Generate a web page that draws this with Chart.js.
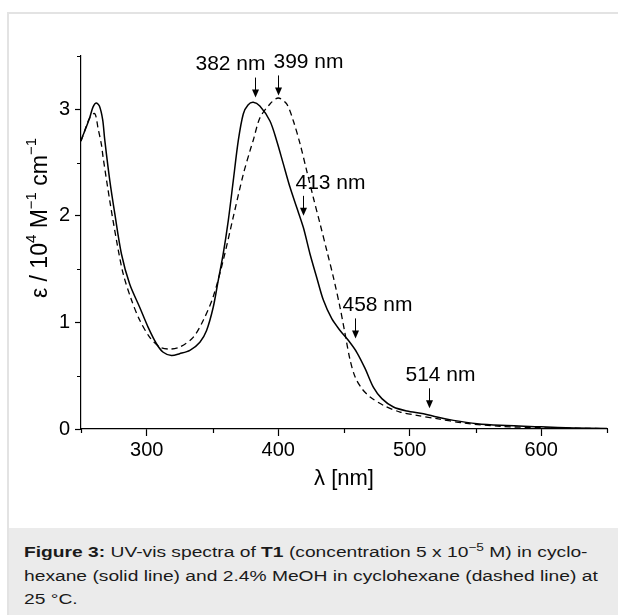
<!DOCTYPE html>
<html>
<head>
<meta charset="utf-8">
<script src="https://cdn.jsdelivr.net/npm/chart.js@4.4.1/dist/chart.umd.min.js"></script>
<style>
html, body { margin: 0; padding: 0; background: #fff; }
body { width: 618px; height: 615px; position: relative; overflow: hidden; font-family: "Liberation Sans", Arial, sans-serif; }
#frame { position: absolute; left: 7px; top: 12px; right: -4px; bottom: -4px; border-top: 2px solid #e3e3e3; border-left: 2px solid #e3e3e3; }
#chart { position: absolute; left: 0; top: 0; }
#caption { position: absolute; left: 9px; top: 528px; right: 0; bottom: 0; background: #ebebeb; }
#captext { position: absolute; left: 15px; top: 12px; width: 480px; white-space: nowrap; font-size: 15.5px; line-height: 23.5px; color: #1a1a1a; transform: scaleX(1.24); transform-origin: 0 0; }
#captext sup { font-size: 11px; line-height: 0; vertical-align: 6px; }
</style>
</head>
<body>
<div id="frame"></div>
<canvas id="chart" width="618" height="527"></canvas>
<div id="caption"><div id="captext"><b>Figure 3:</b> UV-vis spectra of <b>T1</b> (concentration 5 x 10<sup>−5</sup> M) in cyclo-<br>hexane (solid line) and 2.4% MeOH in cyclohexane (dashed line) at<br>25 °C.</div></div>
<script>
// cyclohexane (solid line)
var solidNm  = [250, 253, 256.6, 259.1, 261.5, 264, 266.5, 268, 271.9, 275.7, 280.8, 287, 294.7, 301, 307.4, 312.5, 318.8, 325, 332.8, 340.4, 345.5, 350.5, 354.3, 358.1, 362, 365.8, 369.6, 373.4, 377, 381, 386, 393.7, 398.8, 403.8, 408.9, 414, 419.1, 424.2, 429.3, 434.3, 440.7, 447, 453.4, 459.7, 466.1, 472.4, 478.8, 487.6, 497.8, 510.5, 520.7, 533.3, 551.2, 569, 600, 625, 650];
var solidEps = [2.71, 2.80, 2.92, 3.02, 3.06, 3.03, 2.90, 2.72, 2.33, 2.02, 1.64, 1.36, 1.14, 0.956, 0.80, 0.72, 0.69, 0.707, 0.738, 0.815, 0.925, 1.14, 1.39, 1.64, 1.956, 2.33, 2.705, 2.956, 3.04, 3.065, 3.03, 2.89, 2.705, 2.49, 2.27, 2.08, 1.89, 1.64, 1.42, 1.21, 1.035, 0.925, 0.83, 0.72, 0.566, 0.39, 0.285, 0.206, 0.169, 0.144, 0.112, 0.081, 0.05, 0.035, 0.02, 0.01, 0.005];

// 2.4% MeOH in cyclohexane (dashed line)
var dashNm  = [250, 254, 256.7, 260.5, 263, 265.5, 266.8, 271.9, 277, 282, 288.4, 294.7, 302.3, 309.9, 317.6, 325.2, 335.3, 343, 350.5, 358.1, 365.8, 373.4, 378.5, 381, 386.1, 393.7, 400, 406.4, 411.5, 416.6, 421.7, 426.7, 431.8, 436.9, 442, 447, 450.8, 454.7, 458.5, 463.6, 469.9, 480, 492.7, 505.4, 520.7, 541, 569, 600, 650];
var dashEps = [2.70, 2.84, 2.92, 2.96, 2.82, 2.67, 2.55, 2.14, 1.77, 1.46, 1.21, 1.02, 0.86, 0.77, 0.75, 0.77, 0.86, 1.02, 1.24, 1.58, 1.99, 2.39, 2.61, 2.71, 2.92, 3.05, 3.106, 3.05, 2.89, 2.675, 2.42, 2.17, 1.925, 1.675, 1.42, 1.14, 0.894, 0.644, 0.487, 0.379, 0.30, 0.222, 0.159, 0.128, 0.097, 0.056, 0.025, 0.012, 0.003];

// arrow annotations: label, wavelength of arrow, epsilon at arrow tip
var annoText = ['382 nm', '399 nm', '413 nm', '458 nm', '514 nm'];
var annoNm   = [382, 399.5, 418.5, 458.4, 514.3];
var annoEps  = [3.11, 3.13, 2.00, 0.85, 0.194];

// tick values
var xTicks = [300, 400, 500, 600];
var yTicks = [0, 1, 2, 3];
var xMinor = [250, 350, 450, 550, 650];
var yMinor = [0.5, 1.5, 2.5, 3.5];

var FONT = '"Liberation Sans", Arial, sans-serif';

function pts(xs, ys) {
    return xs.map(function (x, i) { return {x: x, y: ys[i]}; });
}

var extras = {
    id: 'extras',
    afterDraw: function (chart) {
        var ctx = chart.ctx;
        var xs = chart.scales.x, ys = chart.scales.y;
        ctx.save();
        ctx.strokeStyle = '#000';
        ctx.fillStyle = '#000';
        ctx.lineWidth = 1.2;

        // minor ticks
        ctx.beginPath();
        xMinor.forEach(function (v) {
            var px = Math.round(xs.getPixelForValue(v)) + 0.5;
            ctx.moveTo(px, ys.bottom);
            ctx.lineTo(px, ys.bottom + 4);
        });
        yMinor.forEach(function (v) {
            var py = Math.round(ys.getPixelForValue(v)) + 0.5;
            ctx.moveTo(xs.left, py);
            ctx.lineTo(xs.left - 4, py);
        });
        ctx.stroke();

        // arrows + labels
        var shift = [-25, 30, 27, 22, 11];
        ctx.font = '21px ' + FONT;
        ctx.textAlign = 'center';
        ctx.textBaseline = 'middle';
        ctx.lineWidth = 1;
        annoText.forEach(function (t, i) {
            var ax = Math.round(xs.getPixelForValue(annoNm[i])) + 0.5;
            var tip = ys.getPixelForValue(annoEps[i]);
            ctx.beginPath();
            ctx.moveTo(ax, tip - 20);
            ctx.lineTo(ax, tip - 6);
            ctx.stroke();
            ctx.beginPath();
            ctx.moveTo(ax - 3.5, tip - 8);
            ctx.lineTo(ax + 3.5, tip - 8);
            ctx.lineTo(ax, tip);
            ctx.closePath();
            ctx.fill();
            ctx.fillText(t, ax + shift[i], tip - 33);
        });

        // y axis title with superscripts
        var parts = [['ε / 10', 23, 0], ['4', 15, -9], [' M', 23, 0], ['−1', 15, -9], [' cm', 23, 0], ['−1', 15, -9]];
        var total = 0;
        parts.forEach(function (p) { ctx.font = p[1] + 'px ' + FONT; total += ctx.measureText(p[0]).width; });
        ctx.translate(41, 218);
        ctx.rotate(-Math.PI / 2);
        ctx.textAlign = 'left';
        ctx.textBaseline = 'middle';
        var cx = -total / 2;
        parts.forEach(function (p) {
            ctx.font = p[1] + 'px ' + FONT;
            ctx.fillText(p[0], cx, p[2]);
            cx += ctx.measureText(p[0]).width;
        });
        ctx.restore();
    }
};

var ctx = document.getElementById('chart').getContext('2d');
var chart = new Chart(ctx, {
    type: 'line',
    data: {
        datasets: [{
            label: 'cyclohexane',
            data: pts(solidNm, solidEps),
            borderColor: '#000',
            borderWidth: 1.5,
            pointRadius: 0,
            tension: 0.3,
            fill: false
        }, {
            label: '2.4% MeOH in cyclohexane',
            data: pts(dashNm, dashEps),
            borderColor: '#000',
            borderWidth: 1.3,
            borderDash: [6, 4],
            pointRadius: 0,
            tension: 0.3,
            fill: false
        }]
    },
    options: {
        responsive: false,
        animation: false,
        devicePixelRatio: 1,
        layout: { padding: { top: 56, right: 11, left: 0, bottom: 0 } },
        plugins: { legend: { display: false }, tooltip: { enabled: false } },
        scales: {
            x: {
                type: 'linear',
                min: 250,
                max: 650,
                afterBuildTicks: function (s) { s.ticks = xTicks.map(function (v) { return {value: v}; }); },
                ticks: { color: '#000', padding: 2, maxRotation: 0, autoSkip: false,
                         font: { size: 20, family: FONT } },
                grid: { drawOnChartArea: false, tickLength: 7, color: '#000', tickWidth: 1.2 },
                border: { color: '#000', width: 1.2 },
                title: { display: true, text: 'λ [nm]', color: '#000', padding: { top: 0, bottom: 35 },
                         font: { size: 22, family: FONT } },
                afterFit: function (s) { s.height = 98; }
            },
            y: {
                min: 0,
                max: 3.5,
                afterBuildTicks: function (s) { s.ticks = yTicks.map(function (v) { return {value: v}; }); },
                ticks: { color: '#000', padding: 5, autoSkip: false,
                         font: { size: 20, family: FONT } },
                grid: { drawOnChartArea: false, tickLength: 6, color: '#000', tickWidth: 1.2 },
                border: { color: '#000', width: 1.2 },
                afterFit: function (s) { s.width = 81; }
            }
        }
    },
    plugins: [extras]
});
</script>
</body>
</html>
